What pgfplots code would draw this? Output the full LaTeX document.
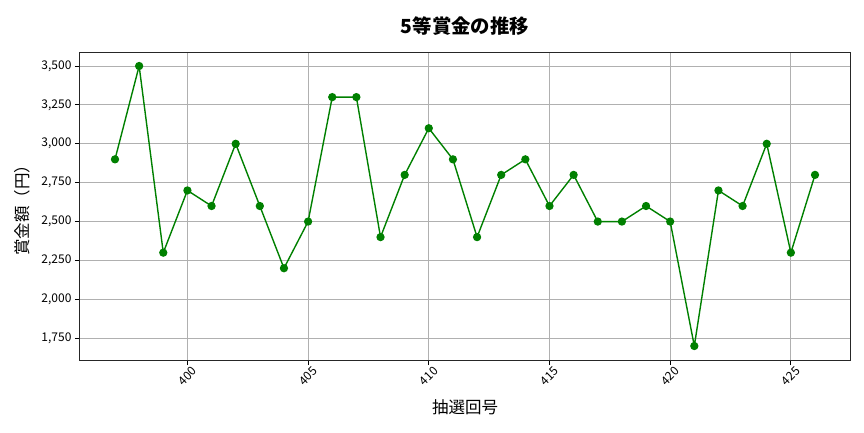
\documentclass[border=0pt]{standalone}
\usepackage{pgfplots}
\pgfplotsset{compat=1.18}
\usepackage{fontspec}
\setmainfont{Noto Sans CJK JP}
\definecolor{mplgreen}{HTML}{008000}
\definecolor{gridgray}{HTML}{B0B0B0}
\begin{document}
\begin{tikzpicture}[x=1pt,y=1pt]
\path (-80,-72) rectangle (784,360);
\begin{axis}[
  at={(0,0)}, anchor=south west,
  scale only axis, width=770pt, height=308pt,
  xmin=395.55, xmax=427.45, ymin=1610, ymax=3590,
  xtick={400,405,410,415,420,425},
  ytick={1750,2000,2250,2500,2750,3000,3250,3500},
  xtick pos=left, ytick pos=left,
  /pgf/number format/assume math mode=true,
  /pgf/number format/1000 sep={,},
  scaled y ticks=false,
  xticklabel style={yshift=-11pt, rotate=45, anchor=center, font=\fontsize{12}{14}\selectfont},
  yticklabel style={font=\fontsize{12}{14}\selectfont},
  grid=major, grid style={gridgray, line width=1pt},
  tick align=outside, tick style={black, line width=1pt},
  major tick length=5pt,
  axis line style={line width=1pt, black!85},
  title={\bfseries 5等賞金の推移},
  title style={font=\fontsize{19.4}{22}\selectfont, at={(axis description cs:0.5,1)}, anchor=center, yshift=20pt},
  xlabel={抽選回号}, ylabel={賞金額（円）},
  label style={font=\fontsize{16.5}{19}\selectfont},
  xlabel style={at={(axis description cs:0.5,0)}, anchor=center, yshift=-47pt},
  ylabel style={at={(axis description cs:-0.0753,0.5)}, anchor=center},
]
\addplot[mplgreen, line width=1.4pt, mark=*, mark size=3.4pt, mark options={fill=mplgreen, draw=mplgreen}] coordinates {
(397,2900) (398,3500) (399,2300) (400,2700) (401,2600) (402,3000)
(403,2600) (404,2200) (405,2500) (406,3300) (407,3300) (408,2400)
(409,2800) (410,3100) (411,2900) (412,2400) (413,2800) (414,2900)
(415,2600) (416,2800) (417,2500) (418,2500) (419,2600) (420,2500)
(421,1700) (422,2700) (423,2600) (424,3000) (425,2300) (426,2800)
};
\end{axis}
\end{tikzpicture}
\end{document}
